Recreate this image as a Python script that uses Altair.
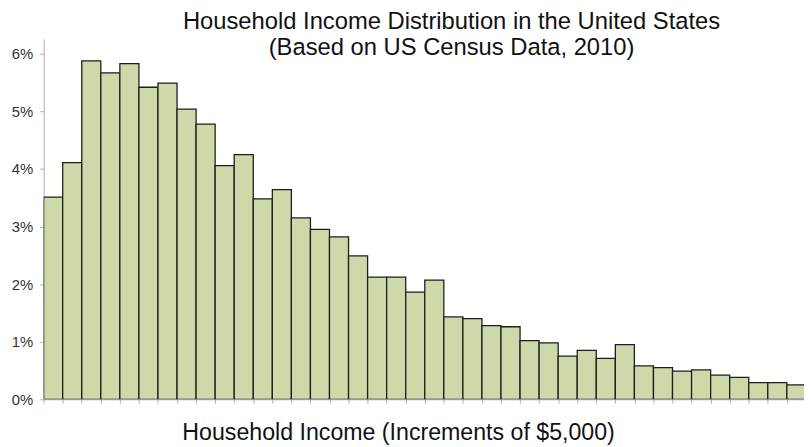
import altair as alt
import pandas as pd

# Share of households in each $5,000 income bracket (fraction)
shares = [0.0351, 0.0411, 0.0588, 0.0567, 0.0583, 0.0542, 0.0549, 0.0504,
          0.0478, 0.0406, 0.0425, 0.0348, 0.0364, 0.0315, 0.0295, 0.0282,
          0.0249, 0.0212, 0.0212, 0.0186, 0.0207, 0.0143, 0.0140, 0.0128,
          0.0126, 0.0102, 0.0098, 0.0075, 0.0085, 0.0071, 0.0095, 0.0058,
          0.0055, 0.0049, 0.0051, 0.0042, 0.0038, 0.0029, 0.0029, 0.0025]
bins = list(range(len(shares)))
y_ticks = [0, 0.01, 0.02, 0.03, 0.04, 0.05, 0.06]

df = pd.DataFrame({"start": bins, "end": [b + 1 for b in bins], "share": shares})

chart = alt.Chart(df).mark_bar(
    fill="#cdd9a9", stroke="#1e1e1e", strokeWidth=1.3, clip=True
).encode(
    x=alt.X("start:Q", scale=alt.Scale(domain=[0, 39.9], nice=False, zero=False),
            axis=alt.Axis(values=list(range(41)), labels=False, grid=False,
                          tickSize=4, tickColor="#b0b0b0", domainColor="#b0b0b0",
                          title="Household Income (Increments of $5,000)",
                          titleFont="Liberation Sans", titleFontSize=23.4,
                          titleFontWeight="normal", titleColor="#111111",
                          titleX=358, titleY=41, titleAlign="center",
                          titleBaseline="alphabetic")),
    x2="end:Q",
    y=alt.Y("share:Q", scale=alt.Scale(domain=[0, 0.0626], nice=False),
            axis=alt.Axis(values=y_ticks, format=".0%", grid=False, title=None,
                          tickSize=4, tickColor="#b0b0b0", domainColor="#b0b0b0",
                          labelPadding=7, labelFont="Liberation Sans",
                          labelFontSize=15, labelColor="#333333")),
    y2=alt.datum(0),
).properties(
    width=768,
    height=364,
    padding={"left": 36, "top": 29, "right": 0, "bottom": 46},
    autosize=alt.AutoSizeParams(type="none"),
    title=alt.TitleParams(
        text=["Household Income Distribution in the United States",
              "(Based on US Census Data, 2010)"],
        font="Liberation Sans", fontSize=24, fontWeight="normal", color="#111111",
        anchor="middle", frame="group", dx=28, dy=49, offset=9,
        baseline="alphabetic", lineHeight=26),
).configure_view(stroke=None)

chart.save("out.html", embed_options={"renderer": "svg", "actions": False})
